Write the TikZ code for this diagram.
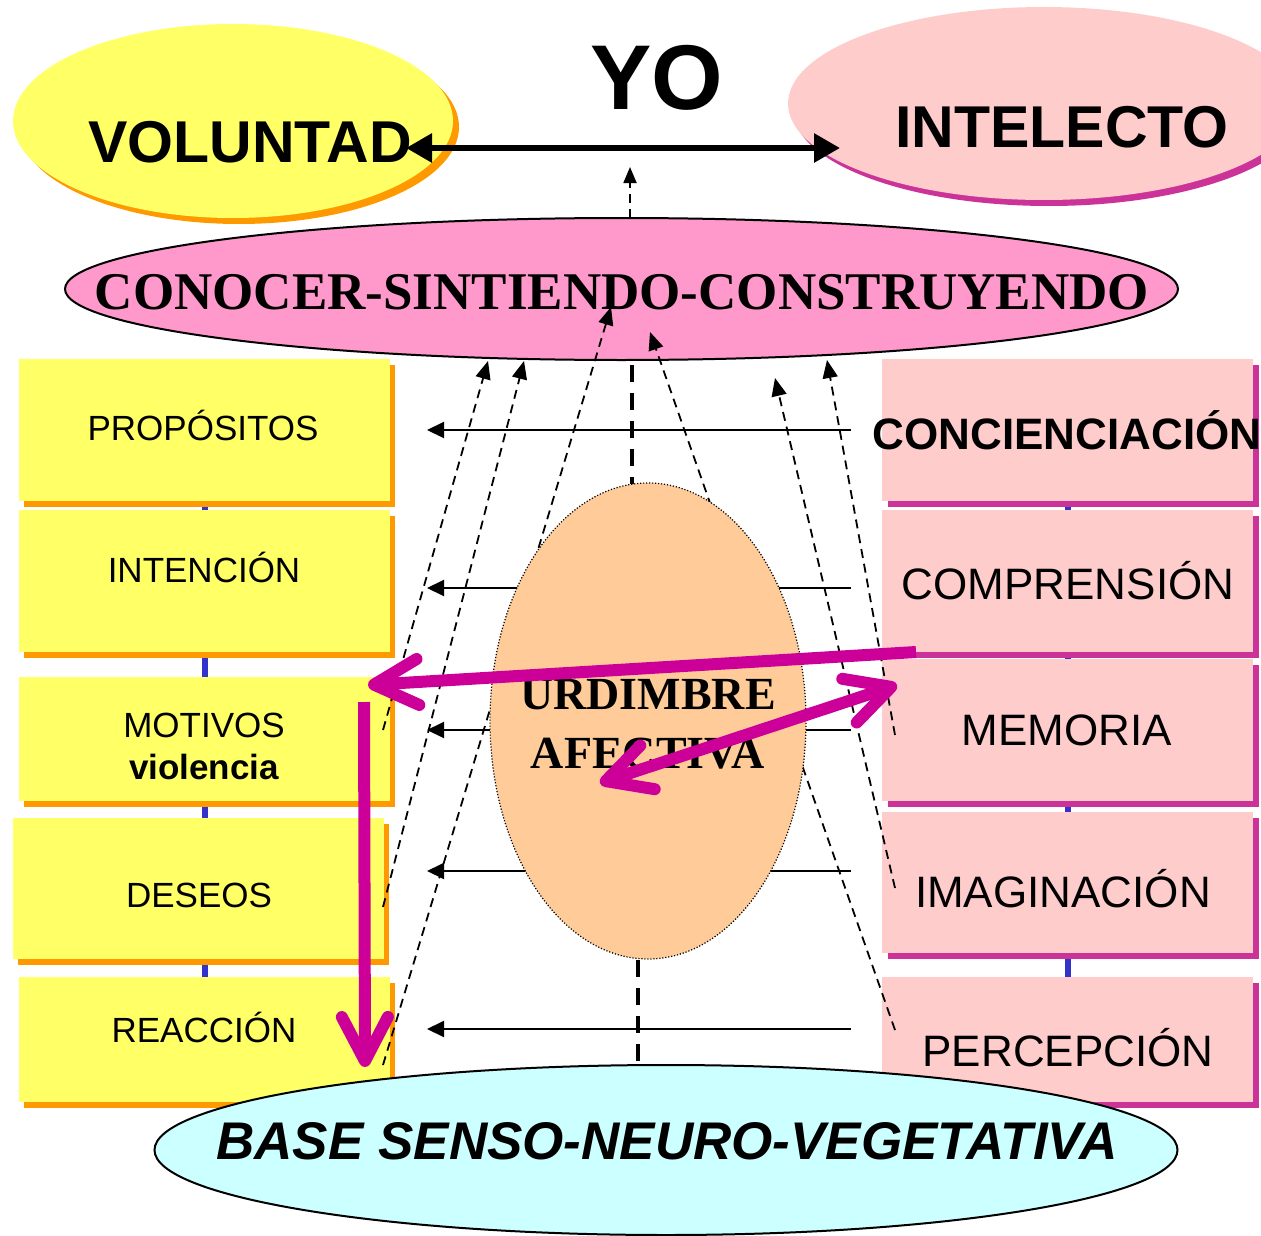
\documentclass[tikz,border=0pt]{standalone}
\usepackage{fontspec}
\setmainfont{Liberation Sans}
\newfontfamily\timesf{Liberation Serif}
\usetikzlibrary{arrows.meta,shapes.geometric,shadows,backgrounds}
\definecolor{yelF}{HTML}{FFFF66}
\definecolor{orS}{HTML}{FF9900}
\definecolor{pinkF}{HTML}{FFCCCC}
\definecolor{magS}{HTML}{CC3399}
\definecolor{conF}{HTML}{FF99CC}
\definecolor{urdF}{HTML}{FFCC99}
\definecolor{baseF}{HTML}{CCFFFF}
\definecolor{blueC}{HTML}{3333CC}
\definecolor{magA}{HTML}{CC0099}
\newcommand\fsz[1]{\fontsize{#1pt}{#1pt}\selectfont}
\begin{document}
\begin{tikzpicture}[x=1pt,y=-1pt,
  ybox/.style={rectangle,fill=yelF,inner sep=0pt,minimum width=371pt,
    general shadow={shadow xshift=5pt,shadow yshift=-6pt,fill=orS}},
  pbox/.style={rectangle,fill=pinkF,inner sep=0pt,minimum width=371pt,
    general shadow={shadow xshift=6pt,shadow yshift=-6pt,fill=magS}},
  lab/.style={anchor=base,inner sep=0pt},
  ltxt/.style={lab,font=\fsz{35}},
  rtxt/.style={lab,font=\fsz{44}},
  hlink/.style={line width=2pt,-{Triangle[length=17pt,width=16pt]}},
  fan/.style={line width=1.8pt,dash pattern=on 9pt off 6pt,-{Triangle[length=18pt,width=15pt]}},
  axisline/.style={line width=4.5pt,dash pattern=on 17pt off 11pt},
  maga/.style={draw=magA,line width=12pt},
  MBarb/.tip={Straight Barb[length=44pt,width=46pt,round]}
]
\useasboundingbox (0,0) rectangle (1261,1236);
\clip (0,0) rectangle (1261,1236);

% left boxes
\node[ybox,minimum height=142pt] (b1) at (204.5,430) {};
\node[ybox,minimum height=142pt] (b2) at (204.5,581) {};
\node[ybox,minimum height=124pt] (b3) at (204.5,739) {};
\node[ybox,minimum height=141pt] (b4) at (198.5,888.5) {};
\node[ybox,minimum height=125pt] (b5) at (204.5,1039.5) {};
% right boxes
\node[pbox,minimum height=142pt] (r1) at (1067.5,430) {};
\node[pbox,minimum height=142pt] (r2) at (1067.5,581) {};
\node[pbox,minimum height=142pt] (r3) at (1067.5,730) {};
\node[pbox,minimum height=141pt] (r4) at (1067.5,882.5) {};
\node[pbox,minimum height=125pt] (r5) at (1067.5,1039.5) {};

\begin{pgfonlayer}{background}
\draw[blueC,line width=6pt] (b1.center) -- (b5.center);
\draw[blueC,line width=6pt] (r1.center) -- (r5.center);
\end{pgfonlayer}

% box texts
\node[ltxt] (t1) at (203,440) {PROPÓSITOS};
\node[ltxt] (t2) at (204,582) {INTENCIÓN};
\node[ltxt] (t3) at (204,737) {MOTIVOS};
\node[lab,font=\fsz{35}\bfseries] (t3b) at (204,779) {violencia};
\node[ltxt] (t4) at (199,907) {DESEOS};
\node[ltxt] (t5) at (204,1042) {REACCIÓN};
\node[lab,font=\fsz{44}\bfseries] (s1) at (1067,449) {CONCIENCIACIÓN};
\node[rtxt] (s2) at (1068,599) {COMPRENSIÓN};
\node[rtxt] (s3) at (1067,745) {MEMORIA};
\node[rtxt] (s4) at (1063,907) {IMAGINACIÓN};
\node[rtxt] (s5) at (1068,1066) {PERCEPCIÓN};

% top ellipses
\node[ellipse,fill=yelF,inner sep=0pt,minimum width=440pt,minimum height=194pt,
  general shadow={shadow xshift=6pt,shadow yshift=-6pt,fill=orS}] (vol) at (233,121) {};
\node[lab,font=\fsz{59}\bfseries] (volt) at (250,163) {VOLUNTAD};
\node[ellipse,fill=pinkF,inner sep=0pt,minimum width=512pt,minimum height=193pt,
  general shadow={shadow xshift=5pt,shadow yshift=-6pt,fill=magS}] (int) at (1044,103.5) {};
\node[lab,font=\fsz{59}\bfseries] (intt) at (1062,147) {INTELECTO};
\node[lab,font=\fsz{92}\bfseries] (yo) at (657,110) {YO};

% conocer
\node[ellipse,draw,line width=2pt,fill=conF,inner sep=0pt,minimum width=1113pt,minimum height=142pt] (con) at (621.5,289) {};
\node[lab,font=\timesf\bfseries\fsz{53}] (cont) at (622,309) {CONOCER-SINTIENDO-CONSTRUYENDO};

% horizontal arrows
\foreach \yy/\n in {430/1,588/2,730/3,871/4,1029/5}{
  \coordinate (hr\n) at (851,\yy);
  \coordinate (hl\n) at (427,\yy);
  \draw[hlink] (hr\n) -- (hl\n);
}

% fan dashed arrows
\coordinate (L1a) at (383,730);  \coordinate (L1b) at (488,361);
\coordinate (L2a) at (383,907);  \coordinate (L2b) at (524,361);
\coordinate (L3a) at (383,1065); \coordinate (L3b) at (611,307);
\coordinate (R1a) at (895,735);  \coordinate (R1b) at (827,360);
\coordinate (R2a) at (895,888);  \coordinate (R2b) at (775,378);
\coordinate (R3a) at (895,1030); \coordinate (R3b) at (650,332);
\draw[fan] (L1a) -- (L1b);
\draw[fan] (L2a) -- (L2b);
\draw[fan] (L3a) -- (L3b);
\draw[fan] (R1a) -- (R1b);
\draw[fan] (R2a) -- (R2b);
\draw[fan] (R3a) -- (R3b);

% central thick dashed axis
\coordinate (ax1) at (632,365); \coordinate (ax2) at (632,484);
\coordinate (ax3) at (638,960); \coordinate (ax4) at (638,1066);
\draw[axisline] (ax1) -- (ax2);
\draw[axisline] (ax3) -- (ax4);

% urdimbre
\node[ellipse,draw,line width=1.2pt,dash pattern=on 1.2pt off 1.8pt,fill=urdF,inner sep=0pt,
  minimum width=316pt,minimum height=476pt] (urd) at (648,721) {};
\node[lab,font=\timesf\bfseries\fsz{46}] (u1) at (648,709) {URDIMBRE};
\node[lab,font=\timesf\bfseries\fsz{46}] (u2) at (648,768) {AFECTIVA};

% base
\node[ellipse,draw,line width=2pt,fill=baseF,inner sep=0pt,minimum width=1023pt,minimum height=170pt] (base) at (666,1150) {};
\node[lab,font=\fsz{53}\bfseries\itshape] (baset) at (667,1159) {BASE SENSO-NEURO-VEGETATIVA};

% top double arrow and small dashed arrow
\coordinate (da1) at (406,148); \coordinate (da2) at (840,148);
\draw[line width=6pt,{Triangle[length=26pt,width=28pt]}-{Triangle[length=26pt,width=28pt]}] (da1) -- (da2);
\coordinate (ya) at (630,218); \coordinate (yb) at (630,167);
\draw[line width=1.8pt,dash pattern=on 9pt off 6pt,-{Triangle[length=16pt,width=13pt]}] (ya) -- (yb);

% magenta arrows
\coordinate (m1a) at (916,652); \coordinate (m1b) at (368,685);
\draw[maga,-MBarb] (m1a) -- (m1b);
\coordinate (m2a) at (600,783); \coordinate (m2b) at (897,685);
\draw[maga,MBarb-MBarb] (m2a) -- (m2b);
\coordinate (m3a) at (364,702); \coordinate (m3b) at (365,1067);
\draw[maga,-MBarb] (m3a) -- (m3b);
\end{tikzpicture}
\end{document}
